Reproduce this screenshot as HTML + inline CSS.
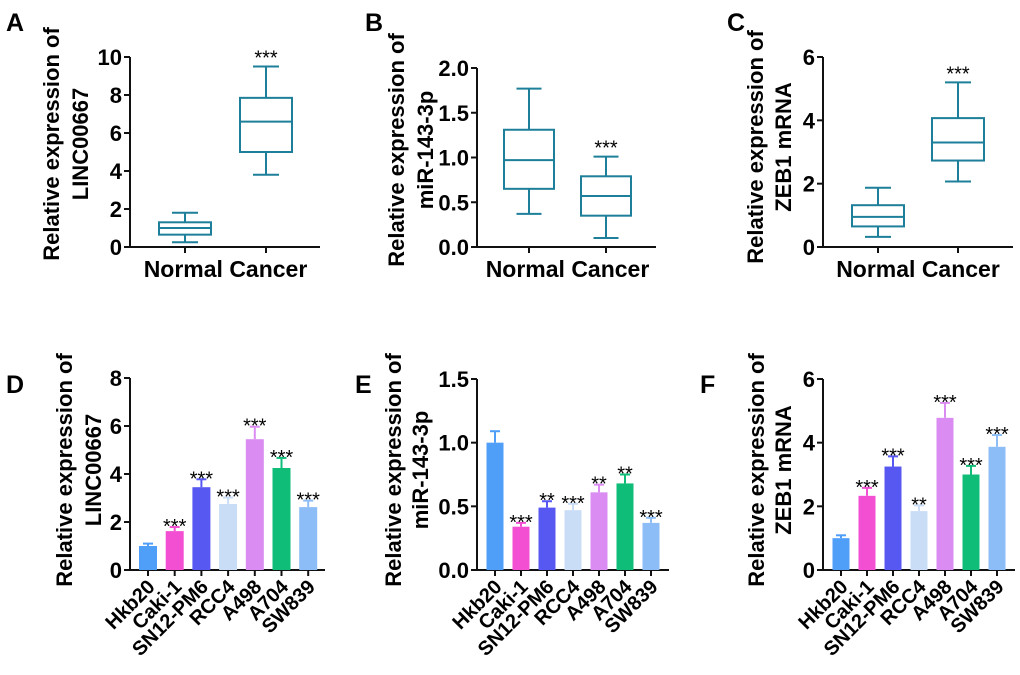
<!DOCTYPE html>
<html><head><meta charset="utf-8"><style>
body{margin:0;background:#fff}
svg{display:block;font-family:"Liberation Sans",Arial,sans-serif}
</style></head><body>
<svg id="fig" width="1020" height="675" viewBox="0 0 1020 675" xmlns="http://www.w3.org/2000/svg"></svg>
<script>
// Box plot data: [min, q1, median, q3, max]
const boxCats = ["Normal", "Cancer"];
const boxA = [[0.25,0.65,1.0,1.3,1.8],[3.8,5.0,6.6,7.85,9.5]];
const boxB = [[0.37,0.65,0.97,1.31,1.77],[0.1,0.35,0.57,0.79,1.01]];
const boxC = [[0.32,0.65,0.95,1.32,1.87],[2.07,2.73,3.3,4.07,5.2]];
const boxSig = ["", "***"];
const ticksA = [0,2,4,6,8,10];
const ticksB = ["0.0","0.5","1.0","1.5","2.0"];
const ticksC = [0,2,4,6];
// Bar data
const cells = ["Hkb20","Caki-1","SN12-PM6","RCC4","A498","A704","SW839"];
const valD = [1.0,1.62,3.45,2.75,5.45,4.25,2.62];
const errD = [0.1,0.17,0.33,0.27,0.52,0.42,0.27];
const sigD = ["","***","***","***","***","***","***"];
const valE = [1.0,0.34,0.49,0.47,0.61,0.68,0.37];
const errE = [0.09,0.03,0.05,0.05,0.06,0.07,0.04];
const sigE = ["","***","**","***","**","**","***"];
const valF = [1.0,2.33,3.25,1.85,4.78,3.0,3.87];
const errF = [0.09,0.25,0.32,0.18,0.47,0.27,0.37];
const sigF = ["","***","***","**","***","***","***"];
const ticksD = [0,2,4,6,8];
const ticksE = ["0.0","0.5","1.0","1.5"];
const ticksF = [0,2,4,6];
const barColors = ["#4f9ef8","#f34fd2","#5757f2","#c9ddf6","#db8cf2","#0fbd78","#8dbdf6"];

const NS="http://www.w3.org/2000/svg";
const svg=document.getElementById('fig');
function el(tag,attrs,parent,text){
  const e=document.createElementNS(NS,tag);
  for(const k in attrs) e.setAttribute(k,attrs[k]);
  if(text!==undefined) e.textContent=text;
  (parent||svg).appendChild(e);
  return e;
}
function panel(name,letter,lx,ly){
  const g=el('g',{});
  
  
  const t=el('text',{x:lx,y:ly,'font-size':25,'font-weight':'bold'},g,letter);
  
  
  return g;
}
function yTitle(g,name,x1,x2,cy,l1,l2){
  const t1=el('text',{x:0,y:0,transform:`translate(${x1},${cy}) rotate(-90)`,'text-anchor':'middle','font-size':22,'font-weight':'bold','dominant-baseline':'middle'},g,l1);
  
  
  const t2=el('text',{x:0,y:0,transform:`translate(${x2},${cy}) rotate(-90)`,'text-anchor':'middle','font-size':22,'font-weight':'bold','dominant-baseline':'middle'},g,l2);
  
  
}
function axes(g,name,ax,y0,y1,xend,ticks,max){
  const ys=v=>y0-(v/max)*(y0-y1);
  const a=el('path',{d:`M${ax},${y1}V${y0}H${xend}`,stroke:'#111',fill:'none','stroke-width':2},g);
  
  
  ticks.forEach(t=>{
    const v=parseFloat(t);
    el('line',{x1:ax-6,x2:ax,y1:ys(v),y2:ys(v),stroke:'#111','stroke-width':2},g);
    const tl=el('text',{x:ax-8,y:ys(v)+8,'text-anchor':'end','font-size':22,'font-weight':'bold'},g,String(t));
    
    
  });
  return ys;
}
function boxPanel(name,letter,lx,ly,ax,y0,y1,xend,ticks,max,xs,hw,data,tx1,tx2,tcy,l1,l2){
  const g=panel(name,letter,lx,ly);
  yTitle(g,name,tx1,tx2,tcy,l1,l2);
  const ys=axes(g,name,ax,y0,y1,xend,ticks,max);
  const c='#1d7f99';
  data.forEach((d,i)=>{
    const x=xs[i];
    el('line',{x1:x,x2:x,y1:y0,y2:y0+6,stroke:'#111','stroke-width':2},g);
    const bg=el('g',{stroke:c,'stroke-width':2,fill:'none'},g);
    
    
    el('rect',{x:x-hw,y:ys(d[3]),width:2*hw,height:ys(d[1])-ys(d[3])},bg);
    el('line',{x1:x-hw,x2:x+hw,y1:ys(d[2]),y2:ys(d[2])},bg);
    el('line',{x1:x,x2:x,y1:ys(d[3]),y2:ys(d[4])},bg);
    el('line',{x1:x,x2:x,y1:ys(d[1]),y2:ys(d[0])},bg);
    el('line',{x1:x-hw/2,x2:x+hw/2,y1:ys(d[4]),y2:ys(d[4])},bg);
    el('line',{x1:x-hw/2,x2:x+hw/2,y1:ys(d[0]),y2:ys(d[0])},bg);
    if(boxSig[i]){
      const s=el('text',{x:x,y:ys(d[4])-2,'text-anchor':'middle','font-size':20},g,boxSig[i]);
      
      
    }
  });
  const cl=el('text',{x:(xs[0]+xs[1])/2,y:277,'text-anchor':'middle','font-size':23,'font-weight':'bold'},g,boxCats.join(' '));
  
  
}
function barPanel(name,letter,lx,ly,ax,y0,y1,xend,ticks,max,x0,step,bw,vals,errs,sigs,tx1,tx2,tcy,l1,l2){
  const g=panel(name,letter,lx,ly);
  yTitle(g,name,tx1,tx2,tcy,l1,l2);
  const ys=axes(g,name,ax,y0,y1,xend,ticks,max);
  vals.forEach((v,i)=>{
    const x=x0+i*step, col=barColors[i];
    const top=ys(v), et=ys(v+errs[i]);
    el('line',{x1:x,x2:x,y1:top,y2:et,stroke:col,'stroke-width':2},g);
    el('line',{x1:x-5,x2:x+5,y1:et,y2:et,stroke:col,'stroke-width':2},g);
    const r=el('rect',{x:x-bw/2,y:top,width:bw,height:y0-top,fill:col},g);
    
    
    el('line',{x1:x,x2:x,y1:y0,y2:y0+6,stroke:'#111','stroke-width':2},g);
    if(sigs[i]){
      const s=el('text',{x:x,y:et+6,'text-anchor':'middle','font-size':20},g,sigs[i]);
      
      
    }
    const t=el('text',{x:0,y:0,transform:`translate(${x+8},${y0+18}) rotate(-45)`,'text-anchor':'end','font-size':20,'font-weight':'bold'},g,cells[i]);
    
    
  });
}
boxPanel('a','A',6,31,130,247,57,320,ticksA,10,[185,266],26,boxA,53,82,144,'Relative expression of','LINC00667');
boxPanel('b','B',365,31,477,247,68,656,ticksB,2,[529,606],25,boxB,398,427,150,'Relative expression of','miR-143-3p');
boxPanel('c','C',727,31,823,247,57,1013,ticksC,6,[878,958],26,boxC,757,785,147,'Relative expression of','ZEB1 mRNA');
barPanel('d','D',6,393,130,570,378,325,ticksD,8,148,26.7,18,valD,errD,sigD,66,95,470,'Relative expression of','LINC00667');
barPanel('e','E',355,393,477,570,379,669,ticksE,1.5,495,26,17,valE,errE,sigE,395,422,470,'Relative expression of','miR-143-3p');
barPanel('f','F',700,393,823,570,379,1015,ticksF,6,841,26,17,valF,errF,sigF,758,785,470,'Relative expression of','ZEB1 mRNA');
</script>
</body></html>
